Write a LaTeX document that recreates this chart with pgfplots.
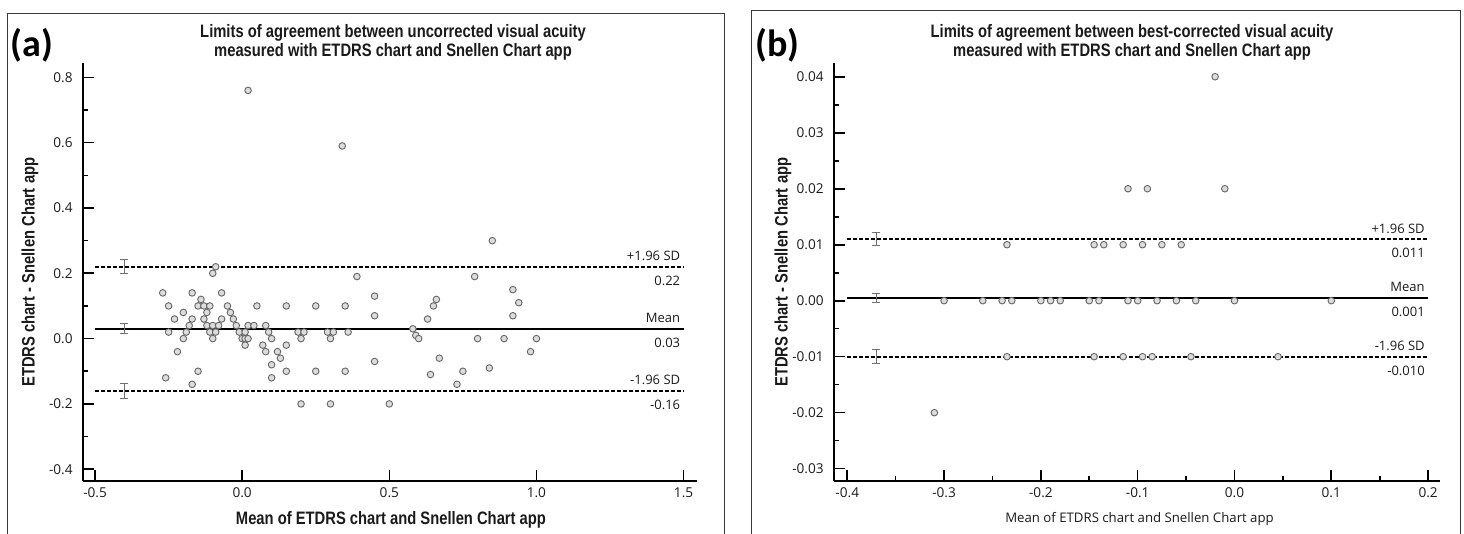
\documentclass[border=0pt]{standalone}
\usepackage{fontspec}
\setmainfont{Open Sans}
\IfFontExistsTF{Liberation Sans Narrow}
  {\newfontfamily\narrowfont{Liberation Sans Narrow}}
  {\newfontfamily\narrowfont{Liberation Sans}[FakeStretch=0.82]}
\newfontfamily\carlito{Carlito}
\usepackage{pgfplots}
\pgfplotsset{compat=1.18}
\definecolor{mfill}{HTML}{DCDCDC}
\definecolor{mdraw}{HTML}{666666}
\definecolor{ebar}{HTML}{707070}
\definecolor{framec}{HTML}{3A3A3A}
\definecolor{txt}{HTML}{1A1A1A}
\newcommand{\ttl}{\narrowfont\bfseries\fontsize{9}{9.6}\selectfont}
\newcommand{\tck}{\fontsize{6.8}{8}\selectfont}
\newcommand{\ann}{\fontsize{6.5}{8}\selectfont}
\pgfplotsset{
  ba/.style={
    scale only axis, axis lines=left, axis line style={-, line width=1.1pt, black},
    tick align=inside, major tick length=5.5pt, minor tick length=2.5pt,
    every tick/.append style={black, line width=0.8pt},
    tick label style={font=\tck, text=txt},
    clip=false, anchor=south west, scaled ticks=false,
  },
  pts/.style={only marks, mark=*, mark size=1.65pt, mark options={fill=mfill, draw=mdraw, line width=0.45pt}},
  sdline/.style={black, line width=0.9pt, dash pattern=on 2pt off 1pt},
  meanline/.style={black, line width=0.9pt},
  eb/.style={draw=none, mark=none, forget plot, error bars/.cd, y dir=both, y explicit,
     error bar style={draw=ebar, solid, line width=0.5pt},
     error mark options={draw=ebar, rotate=90, mark size=2pt, line width=0.5pt}},
}
\begin{document}
\begin{tikzpicture}
\useasboundingbox (0,0) rectangle (732pt,267pt);
% frames
\draw[framec, line width=0.5pt] (3.5pt,-1pt) -- (3.5pt,260pt) -- (362pt,260pt) -- (362pt,-1pt);
\draw[framec, line width=0.5pt] (375.85pt,-1pt) -- (375.85pt,261.5pt) -- (730.35pt,261.5pt) -- (730.35pt,-1pt);
% panel labels and titles
\node[font=\carlito\bfseries\fontsize{19}{19}\selectfont, anchor=west, inner sep=0, text=black] at (5pt,244.5pt) {(a)};
\node[font=\carlito\bfseries\fontsize{19}{19}\selectfont, anchor=west, inner sep=0, text=black] at (377.5pt,244.5pt) {(b)};
\node[font=\ttl, align=center, text=txt] at (196.5pt,245.75pt) {Limits of agreement between uncorrected visual acuity\\measured with ETDRS chart and Snellen Chart app};
\node[font=\ttl, align=center, text=txt] at (566pt,245.75pt) {Limits of agreement between best-corrected visual acuity\\measured with ETDRS chart and Snellen Chart app};

% ---------------- panel (a)
\begin{axis}[ba, at={(41.35pt,26.5pt)}, width=307.05pt, height=208.85pt,
  xmin=-0.542, xmax=1.545, ymin=-0.436, ymax=0.843,
  xtick={-0.5,0,0.5,1,1.5}, ytick={-0.4,-0.2,0,0.2,0.4,0.6,0.8}, minor y tick num=1,
  xticklabel style={/pgf/number format/.cd, fixed, fixed zerofill, precision=1, assume math mode=true},
  yticklabel style={xshift=-1.5pt, /pgf/number format/.cd, fixed, fixed zerofill, precision=1, assume math mode=true},
  xlabel={Mean of ETDRS chart and Snellen Chart app},
  xlabel style={font=\ttl, text=txt, at={(rel axis cs:0.502,-0.094)}, anchor=center},
  ylabel={ETDRS chart - Snellen Chart app},
  ylabel style={font=\ttl, text=txt, at={(rel axis cs:-0.086,0.5)}, anchor=center, rotate=0},
]
\addplot[sdline] coordinates {(-0.5,0.22) (1.5,0.22)};
\addplot[meanline] coordinates {(-0.5,0.03) (1.5,0.03)};
\addplot[sdline] coordinates {(-0.5,-0.16) (1.5,-0.16)};
\addplot[eb] coordinates {(-0.4,0.22) +- (0,0.022) (-0.4,0.03) +- (0,0.015) (-0.4,-0.16) +- (0,0.023)};
\addplot[pts] coordinates {
(-0.27,0.14) (-0.25,0.10) (-0.25,0.02) (-0.26,-0.12) (-0.23,0.06) (-0.22,-0.04)
(-0.20,0.08) (-0.20,0.00) (-0.19,0.02) (-0.18,0.04) (-0.17,0.14) (-0.17,0.06)
(-0.17,-0.14) (-0.15,-0.10) (-0.15,0.10) (-0.14,0.12) (-0.13,0.10) (-0.13,0.06)
(-0.12,0.08) (-0.12,0.04) (-0.11,0.10) (-0.11,0.02) (-0.10,0.04) (-0.10,0.00)
(-0.10,0.20) (-0.09,0.22) (-0.09,0.02) (-0.08,0.04) (-0.07,0.14) (-0.07,0.06)
(-0.05,0.10) (-0.04,0.08) (-0.03,0.06) (-0.02,0.04) (-0.01,0.02) (0.00,0.00)
(0.01,0.02) (0.01,0.00) (0.01,-0.02) (0.02,0.04) (0.02,0.00) (0.02,0.76)
(0.04,0.04) (0.05,0.10) (0.07,-0.02) (0.08,0.04) (0.08,-0.04) (0.09,0.02)
(0.10,0.00) (0.10,-0.08) (0.10,-0.12) (0.12,-0.04) (0.13,-0.06) (0.15,0.10)
(0.15,-0.02) (0.15,-0.10) (0.19,0.02) (0.20,0.00) (0.20,-0.20) (0.21,0.02)
(0.25,0.10) (0.25,-0.10) (0.29,0.02) (0.30,0.00) (0.30,-0.20) (0.31,0.02)
(0.34,0.59) (0.35,0.10) (0.35,-0.10) (0.36,0.02) (0.39,0.19) (0.45,0.13)
(0.45,0.07) (0.45,-0.07) (0.50,-0.20) (0.58,0.03) (0.59,0.01) (0.60,0.00)
(0.63,0.06) (0.64,-0.11) (0.65,0.10) (0.66,0.12) (0.67,-0.06) (0.73,-0.14)
(0.75,-0.10) (0.79,0.19) (0.80,0.00) (0.84,-0.09) (0.85,0.30) (0.89,0.00)
(0.92,0.15) (0.92,0.07) (0.94,0.11) (0.98,-0.04) (1.00,0.00)
};
\node[font=\ann, text=txt, anchor=base east, inner sep=0, xshift=-1.5pt, yshift=3pt] at (axis cs:1.5,0.22) {+1.96 SD};
\node[font=\ann, text=txt, anchor=north east, inner sep=0, xshift=-1.5pt, yshift=-4.5pt] at (axis cs:1.5,0.22) {0.22};
\node[font=\ann, text=txt, anchor=base east, inner sep=0, xshift=-1.5pt, yshift=3pt] at (axis cs:1.5,0.03) {Mean};
\node[font=\ann, text=txt, anchor=north east, inner sep=0, xshift=-1.5pt, yshift=-4.5pt] at (axis cs:1.5,0.03) {0.03};
\node[font=\ann, text=txt, anchor=base east, inner sep=0, xshift=-1.5pt, yshift=3pt] at (axis cs:1.5,-0.16) {-1.96 SD};
\node[font=\ann, text=txt, anchor=north east, inner sep=0, xshift=-1.5pt, yshift=-4.5pt] at (axis cs:1.5,-0.16) {-0.16};
\end{axis}

% ---------------- panel (b)
\begin{axis}[ba, at={(416.85pt,26.5pt)}, width=303.4pt, height=208.85pt,
  xmin=-0.414, xmax=0.2128, ymin=-0.0322, ymax=0.0424,
  xtick={-0.4,-0.3,-0.2,-0.1,0,0.1,0.2}, minor x tick num=1,
  ytick={-0.03,-0.02,-0.01,0,0.01,0.02,0.03,0.04}, minor y tick num=1,
  xticklabel style={/pgf/number format/.cd, fixed, fixed zerofill, precision=1, assume math mode=true},
  yticklabel style={xshift=-1.5pt, /pgf/number format/.cd, fixed, fixed zerofill, precision=2, assume math mode=true},
  xlabel={Mean of ETDRS chart and Snellen Chart app},
  xlabel style={font=\fontsize{6.6}{8}\selectfont, text=txt, at={(rel axis cs:0.504,-0.092)}, anchor=center},
  ylabel={ETDRS chart - Snellen Chart app},
  ylabel style={font=\ttl, text=txt, at={(rel axis cs:-0.0836,0.5)}, anchor=center, rotate=0},
]
\addplot[sdline] coordinates {(-0.4,0.011) (0.2,0.011)};
\addplot[meanline] coordinates {(-0.4,0.0005) (0.2,0.0005)};
\addplot[sdline] coordinates {(-0.4,-0.010) (0.2,-0.010)};
\addplot[eb] coordinates {(-0.37,0.011) +- (0,0.0012) (-0.37,0.0005) +- (0,0.0008) (-0.37,-0.010) +- (0,0.0013)};
\addplot[pts] coordinates {
(-0.02,0.04)
(-0.11,0.02) (-0.09,0.02) (-0.01,0.02)
(-0.235,0.01) (-0.145,0.01) (-0.135,0.01) (-0.115,0.01) (-0.095,0.01) (-0.075,0.01) (-0.055,0.01)
(-0.30,0) (-0.26,0) (-0.24,0) (-0.23,0) (-0.20,0) (-0.19,0) (-0.18,0) (-0.15,0)
(-0.14,0) (-0.11,0) (-0.10,0) (-0.08,0) (-0.06,0) (-0.04,0) (0.00,0) (0.10,0)
(-0.235,-0.01) (-0.145,-0.01) (-0.115,-0.01) (-0.095,-0.01) (-0.085,-0.01) (-0.045,-0.01) (0.045,-0.01)
(-0.31,-0.02)
};
\node[font=\ann, text=txt, anchor=base east, inner sep=0, xshift=-1.5pt, yshift=3pt] at (axis cs:0.2,0.011) {+1.96 SD};
\node[font=\ann, text=txt, anchor=north east, inner sep=0, xshift=-1.5pt, yshift=-4.5pt] at (axis cs:0.2,0.011) {0.011};
\node[font=\ann, text=txt, anchor=base east, inner sep=0, xshift=-1.5pt, yshift=3pt] at (axis cs:0.2,0.0005) {Mean};
\node[font=\ann, text=txt, anchor=north east, inner sep=0, xshift=-1.5pt, yshift=-4.5pt] at (axis cs:0.2,0.0005) {0.001};
\node[font=\ann, text=txt, anchor=base east, inner sep=0, xshift=-1.5pt, yshift=3pt] at (axis cs:0.2,-0.010) {-1.96 SD};
\node[font=\ann, text=txt, anchor=north east, inner sep=0, xshift=-1.5pt, yshift=-4.5pt] at (axis cs:0.2,-0.010) {-0.010};
\end{axis}
\end{tikzpicture}
\end{document}
